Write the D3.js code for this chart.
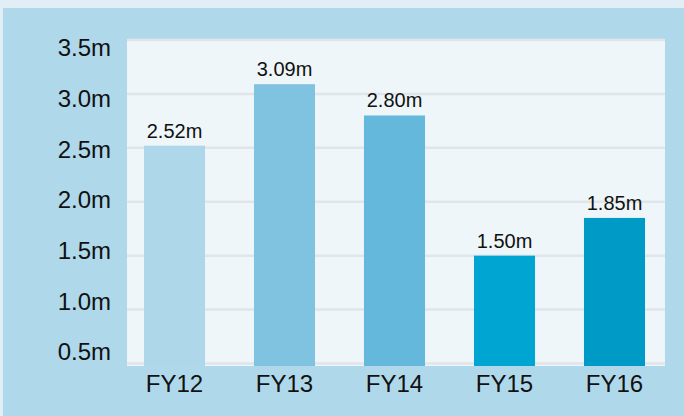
<!DOCTYPE html>
<html>
<head>
<meta charset="utf-8">
<script src="https://cdn.jsdelivr.net/npm/d3@7"></script>
<style>
  body { margin: 0; background: #e1eef5; }
  svg { display: block; font-family: "Liberation Sans", Arial, sans-serif; }
</style>
</head>
<body>
<div id="container"></div>
<script>
// chart data
const years = ["FY12", "FY13", "FY14", "FY15", "FY16"];
const revenue = [2.52, 3.09, 2.80, 1.50, 1.85];
const barColors = ["#aed8ea", "#7fc3e0", "#64b8db", "#00a6d1", "#009ac6"];
const yTicks = [0.5, 1.0, 1.5, 2.0, 2.5, 3.0, 3.5];

const width = 684, height = 416;
// plot box
const plotLeft = 127, plotRight = 665, plotTop = 39, plotBottom = 366;

const svg = d3.select("#container")
  .append("svg")
  .attr("width", width)
  .attr("height", height);

// blue panel
svg.append("rect")
  .attr("x", 3).attr("y", 8)
  .attr("width", width - 3).attr("height", height - 8)
  .attr("fill", "#afd8ea");

// light plot area
svg.append("rect")
  .attr("x", plotLeft).attr("y", plotTop)
  .attr("width", plotRight - plotLeft).attr("height", plotBottom - plotTop)
  .attr("fill", "#eef6fa");

/* SCALES */
const x = d3.scaleBand()
  .domain(years)
  .range([119.5, 669.5])
  .paddingInner(0.445)
  .paddingOuter(0.2225);

const y = d3.scaleLinear()
  .domain([0.5, 3.5])
  .range([363.5, 40]);

// tick labels sit a little off the gridlines in the original
const yLabel = d3.scaleLinear()
  .domain([0.5, 3.5])
  .range([352, 48]);

// gridlines
svg.append("g")
  .selectAll("line")
  .data(yTicks)
  .join("line")
  .attr("x1", plotLeft).attr("x2", plotRight)
  .attr("y1", d => y(d)).attr("y2", d => y(d))
  .attr("stroke", "#e1e5e9")
  .attr("stroke-width", 2.5);

// bars
svg.append("g")
  .selectAll("rect")
  .data(years)
  .join("rect")
  .attr("x", d => x(d))
  .attr("y", (d, i) => y(revenue[i]))
  .attr("width", x.bandwidth())
  .attr("height", (d, i) => plotBottom - y(revenue[i]))
  .attr("fill", (d, i) => barColors[i]);

// value labels
svg.append("g")
  .selectAll("text")
  .data(years)
  .join("text")
  .attr("x", d => x(d) + x.bandwidth() / 2)
  .attr("y", (d, i) => y(revenue[i]) - 8)
  .attr("text-anchor", "middle")
  .attr("font-size", 20)
  .attr("fill", "#111")
  .text((d, i) => revenue[i].toFixed(2) + "m");

// y axis
const yAxis = g => g
  .call(d3.axisLeft(yLabel).tickValues(yTicks).tickSize(0).tickPadding(0)
    .tickFormat(d => d.toFixed(1) + "m"))
  .call(g => g.select(".domain").remove())
  .call(g => g.selectAll("text")
    .attr("font-size", 24)
    .attr("fill", "#111")
    .style("font-family", "Liberation Sans, Arial, sans-serif"));

svg.append("g")
  .attr("transform", "translate(111,0)")
  .call(yAxis);

// x axis
const xAxis = g => g
  .call(d3.axisBottom(x).tickSize(0).tickPadding(0))
  .call(g => g.select(".domain").remove())
  .call(g => g.selectAll("text")
    .attr("dy", "0.71em")
    .attr("font-size", 24)
    .attr("fill", "#111")
    .style("font-family", "Liberation Sans, Arial, sans-serif"));

svg.append("g")
  .attr("transform", "translate(0,375)")
  .call(xAxis);
</script>
</body>
</html>
